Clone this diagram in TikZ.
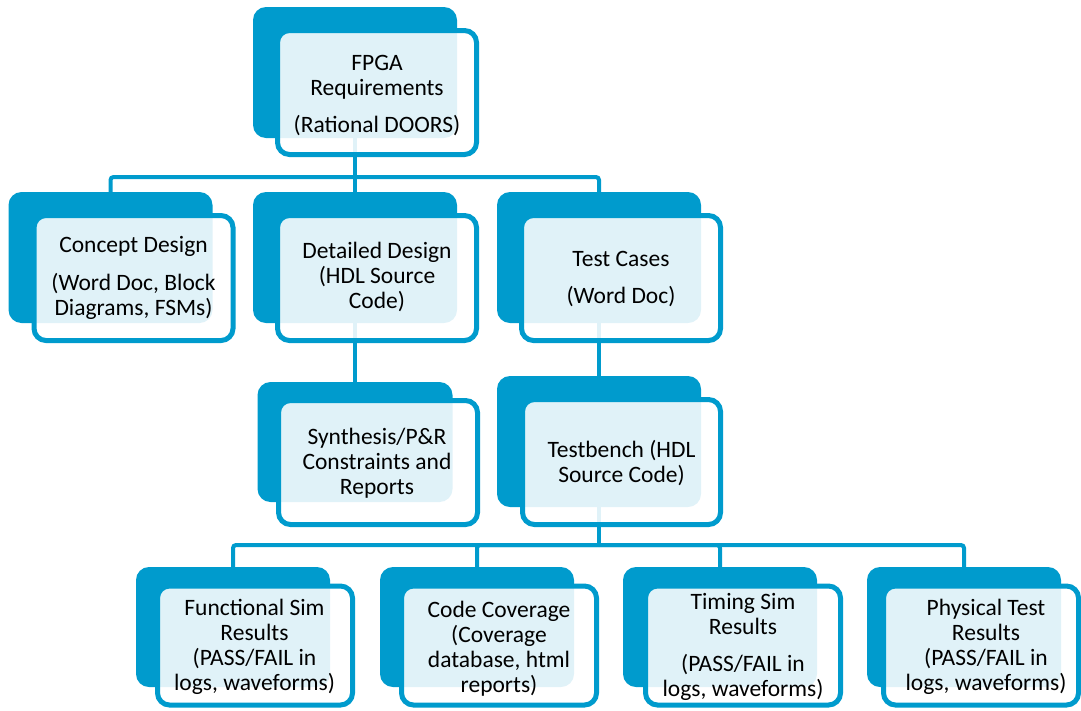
\documentclass[tikz,border=0pt]{standalone}
\usepackage{fontspec}
\setmainfont{Carlito}
\definecolor{smartblue}{RGB}{0,155,205}
\tikzset{
  backbox/.style={fill=smartblue, rounded corners=13pt, inner sep=0pt, outer sep=0pt},
  frontbox/.style={draw=smartblue, line width=5pt, fill=white, fill opacity=0.88,
                   rounded corners=12pt, inner sep=0pt, outer sep=0pt},
  conn/.style={draw=smartblue, line width=4pt, rounded corners=3pt},
  % base anchor sits on the last line of each card text
  boxtext/.style={font=\fontsize{23.5}{25}\selectfont, align=center, inner sep=0pt,
                  anchor=base, text=black}
}
\begin{document}
\begin{tikzpicture}[x=1pt,y=-1pt]
\useasboundingbox (0,0) rectangle (1081,710);

% solid back plates
\node[backbox, minimum width=204pt, minimum height=131pt] (fpgaB) at (355,72.5) {};
\node[backbox, minimum width=204pt, minimum height=131pt] (concB) at (110.5,257.5) {};
\node[backbox, minimum width=204pt, minimum height=131pt] (detB)  at (355,257.5) {};
\node[backbox, minimum width=204pt, minimum height=131pt] (testB) at (599,257.5) {};
\node[backbox, minimum width=195pt, minimum height=120pt] (synB)  at (355,442) {};
\node[backbox, minimum width=204pt, minimum height=131pt] (tbB)   at (599,441.5) {};
\node[backbox, minimum width=194pt, minimum height=120pt] (funB)  at (233,627) {};
\node[backbox, minimum width=194pt, minimum height=120pt] (covB)  at (477,627) {};
\node[backbox, minimum width=194pt, minimum height=120pt] (timB)  at (720,627) {};
\node[backbox, minimum width=194pt, minimum height=120pt] (phyB)  at (964,627) {};

% junctions of the tree
\coordinate (j1) at (355,177);
\coordinate (j2) at (599,545);

% connectors
\draw[conn] (fpgaB.south) -- (detB.north);
\draw[conn] (concB.north) |- (j1) -| (testB.north);
\draw[conn] (detB.south) -- (synB.north);
\draw[conn] (testB.south) -- (tbB.north);
\draw[conn] (tbB.south) -- (j2);
\draw[conn] (funB.north) |- (j2) -| (phyB.north);
\draw[conn] (covB.north) |- (j2);
\draw[conn] (timB.north) |- (j2);

% translucent front cards
\node[frontbox, minimum width=199pt, minimum height=124pt] (fpga) at (377,92.5) {};
\node[frontbox, minimum width=199pt, minimum height=125pt] (conc) at (133.5,278) {};
\node[frontbox, minimum width=199pt, minimum height=125pt] (det)  at (377,278) {};
\node[frontbox, minimum width=199pt, minimum height=125pt] (test) at (621,278) {};
\node[frontbox, minimum width=199pt, minimum height=124pt] (syn)  at (378,462.5) {};
\node[frontbox, minimum width=198pt, minimum height=125pt] (tb)   at (621.5,462) {};
\node[frontbox, minimum width=195pt, minimum height=119pt] (fun)  at (255,645.5) {};
\node[frontbox, minimum width=195pt, minimum height=119pt] (cov)  at (499,645.5) {};
\node[frontbox, minimum width=195pt, minimum height=119pt] (tim)  at (743,645.5) {};
\node[frontbox, minimum width=195pt, minimum height=119pt] (phy)  at (981,645.5) {};

% card texts
\node[boxtext] (fpgaT) at (377,132) {FPGA\\Requirements\\[12pt](Rational DOORS)};
\node[boxtext] (concT) at (133.5,315) {Concept Design\\[13pt](Word Doc, Block\\Diagrams, FSMs)};
\node[boxtext] (detT)  at (377,308) {Detailed Design\\(HDL Source\\Code)};
\node[boxtext] (testT) at (621,303) {Test Cases\\[12pt](Word Doc)};
\node[boxtext] (synT)  at (377,494) {Synthesis/P\&R\\Constraints and\\Reports};
\node[boxtext] (tbT)   at (621.5,482) {Testbench (HDL\\Source Code)};
\node[boxtext] (funT)  at (254.5,690) {Functional Sim\\Results\\(PASS/FAIL in\\logs, waveforms)};
\node[boxtext] (covT)  at (499,692) {Code Coverage\\(Coverage\\database, html\\reports)};
\node[boxtext] (timT)  at (743,696) {Timing Sim\\Results\\[12pt](PASS/FAIL in\\logs, waveforms)};
\node[boxtext] (phyT)  at (986,690) {Physical Test\\Results\\(PASS/FAIL in\\logs, waveforms)};
\end{tikzpicture}
\end{document}
